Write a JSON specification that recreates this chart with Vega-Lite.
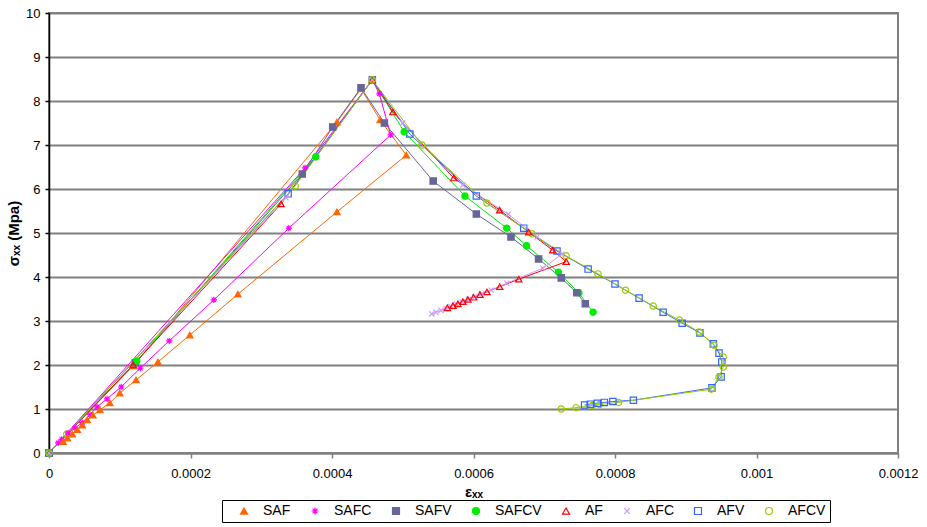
{
  "$schema": "https://vega.github.io/schema/vega-lite/v6.json",
  "width": 849,
  "height": 440,
  "autosize": {"type": "none"},
  "padding": {"left": 49, "top": 13, "right": 29, "bottom": 74},
  "background": "white",
  "config": {
    "view": {"stroke": "#808080", "strokeWidth": 2},
    "font": "Liberation Sans",
    "legend": {
      "orient": "none",
      "legendX": 173,
      "legendY": 487,
      "direction": "horizontal",
      "strokeColor": "black",
      "fillColor": "white",
      "padding": 4,
      "cornerRadius": 0,
      "symbolSize": 49,
      "symbolOffset": 11,
      "symbolStrokeWidth": 1.2,
      "labelFont": "Liberation Sans",
      "labelFontSize": 14,
      "labelColor": "black",
      "labelOffset": 12,
      "columnPadding": 6
    }
  },
  "data": {
    "values": [
      {"s": "SAF", "i": 0, "x": 0, "y": 0},
      {"s": "SAF", "i": 1, "x": 0.000119, "y": 1.98},
      {"s": "SAF", "i": 2, "x": 0.000407, "y": 7.52},
      {"s": "SAF", "i": 3, "x": 0.000441, "y": 8.28},
      {"s": "SAF", "i": 4, "x": 0.000468, "y": 7.57},
      {"s": "SAF", "i": 5, "x": 0.000505, "y": 6.77},
      {"s": "SAF", "i": 6, "x": 0.000407, "y": 5.48},
      {"s": "SAF", "i": 7, "x": 0.000267, "y": 3.61},
      {"s": "SAF", "i": 8, "x": 0.000199, "y": 2.68},
      {"s": "SAF", "i": 9, "x": 0.000154, "y": 2.07},
      {"s": "SAF", "i": 10, "x": 0.000123, "y": 1.66},
      {"s": "SAF", "i": 11, "x": 0.0001, "y": 1.36},
      {"s": "SAF", "i": 12, "x": 0.000086, "y": 1.14},
      {"s": "SAF", "i": 13, "x": 0.000072, "y": 0.98},
      {"s": "SAF", "i": 14, "x": 0.000062, "y": 0.86},
      {"s": "SAF", "i": 15, "x": 0.000054, "y": 0.75},
      {"s": "SAF", "i": 16, "x": 0.000047, "y": 0.63},
      {"s": "SAF", "i": 17, "x": 0.00004, "y": 0.53},
      {"s": "SAF", "i": 18, "x": 0.000033, "y": 0.43},
      {"s": "SAF", "i": 19, "x": 0.000026, "y": 0.34},
      {"s": "SAF", "i": 20, "x": 0.00002, "y": 0.26},

      {"s": "SAFC", "i": 0, "x": 0, "y": 0},
      {"s": "SAFC", "i": 1, "x": 0.000362, "y": 6.48},
      {"s": "SAFC", "i": 2, "x": 0.000457, "y": 8.48},
      {"s": "SAFC", "i": 3, "x": 0.000467, "y": 8.16},
      {"s": "SAFC", "i": 4, "x": 0.000483, "y": 7.23},
      {"s": "SAFC", "i": 5, "x": 0.000339, "y": 5.11},
      {"s": "SAFC", "i": 6, "x": 0.000233, "y": 3.48},
      {"s": "SAFC", "i": 7, "x": 0.00017, "y": 2.55},
      {"s": "SAFC", "i": 8, "x": 0.000129, "y": 1.93},
      {"s": "SAFC", "i": 9, "x": 0.000102, "y": 1.5},
      {"s": "SAFC", "i": 10, "x": 0.000082, "y": 1.23},
      {"s": "SAFC", "i": 11, "x": 0.000068, "y": 1.05},
      {"s": "SAFC", "i": 12, "x": 0.000058, "y": 0.87},
      {"s": "SAFC", "i": 13, "x": 0.000047, "y": 0.69},
      {"s": "SAFC", "i": 14, "x": 0.000037, "y": 0.57},
      {"s": "SAFC", "i": 15, "x": 0.000027, "y": 0.45},
      {"s": "SAFC", "i": 16, "x": 0.000018, "y": 0.31},
      {"s": "SAFC", "i": 17, "x": 0.000013, "y": 0.23},

      {"s": "SAFV", "i": 0, "x": 0, "y": 0},
      {"s": "SAFV", "i": 1, "x": 0.000122, "y": 2.05},
      {"s": "SAFV", "i": 2, "x": 0.000358, "y": 6.34},
      {"s": "SAFV", "i": 3, "x": 0.000401, "y": 7.41},
      {"s": "SAFV", "i": 4, "x": 0.000441, "y": 8.3},
      {"s": "SAFV", "i": 5, "x": 0.000474, "y": 7.5},
      {"s": "SAFV", "i": 6, "x": 0.000543, "y": 6.18},
      {"s": "SAFV", "i": 7, "x": 0.000604, "y": 5.43},
      {"s": "SAFV", "i": 8, "x": 0.000653, "y": 4.91},
      {"s": "SAFV", "i": 9, "x": 0.000692, "y": 4.41},
      {"s": "SAFV", "i": 10, "x": 0.000724, "y": 3.98},
      {"s": "SAFV", "i": 11, "x": 0.000746, "y": 3.64},
      {"s": "SAFV", "i": 12, "x": 0.000758, "y": 3.39},

      {"s": "SAFCV", "i": 0, "x": 0, "y": 0},
      {"s": "SAFCV", "i": 1, "x": 0.000124, "y": 2.09},
      {"s": "SAFCV", "i": 2, "x": 0.000377, "y": 6.73},
      {"s": "SAFCV", "i": 3, "x": 0.000457, "y": 8.48},
      {"s": "SAFCV", "i": 4, "x": 0.000502, "y": 7.3},
      {"s": "SAFCV", "i": 5, "x": 0.000588, "y": 5.84},
      {"s": "SAFCV", "i": 6, "x": 0.000647, "y": 5.11},
      {"s": "SAFCV", "i": 7, "x": 0.000675, "y": 4.71},
      {"s": "SAFCV", "i": 8, "x": 0.00072, "y": 4.11},
      {"s": "SAFCV", "i": 9, "x": 0.000749, "y": 3.64},
      {"s": "SAFCV", "i": 10, "x": 0.000769, "y": 3.2},

      {"s": "AF", "i": 0, "x": 0, "y": 0},
      {"s": "AF", "i": 1, "x": 0.000119, "y": 2.0},
      {"s": "AF", "i": 2, "x": 0.000328, "y": 5.66},
      {"s": "AF", "i": 3, "x": 0.000457, "y": 8.48},
      {"s": "AF", "i": 4, "x": 0.000486, "y": 7.75},
      {"s": "AF", "i": 5, "x": 0.000572, "y": 6.25},
      {"s": "AF", "i": 6, "x": 0.000637, "y": 5.52},
      {"s": "AF", "i": 7, "x": 0.000678, "y": 5.02},
      {"s": "AF", "i": 8, "x": 0.000712, "y": 4.61},
      {"s": "AF", "i": 9, "x": 0.000731, "y": 4.35},
      {"s": "AF", "i": 10, "x": 0.000664, "y": 3.95},
      {"s": "AF", "i": 11, "x": 0.000637, "y": 3.78},
      {"s": "AF", "i": 12, "x": 0.000619, "y": 3.66},
      {"s": "AF", "i": 13, "x": 0.000609, "y": 3.6},
      {"s": "AF", "i": 14, "x": 0.0006, "y": 3.54},
      {"s": "AF", "i": 15, "x": 0.000592, "y": 3.49},
      {"s": "AF", "i": 16, "x": 0.000585, "y": 3.44},
      {"s": "AF", "i": 17, "x": 0.000578, "y": 3.39},
      {"s": "AF", "i": 18, "x": 0.000571, "y": 3.35},
      {"s": "AF", "i": 19, "x": 0.000563, "y": 3.3},

      {"s": "AFC", "i": 0, "x": 0, "y": 0},
      {"s": "AFC", "i": 1, "x": 0.000025, "y": 0.43},
      {"s": "AFC", "i": 2, "x": 0.000335, "y": 5.8},
      {"s": "AFC", "i": 3, "x": 0.000457, "y": 8.48},
      {"s": "AFC", "i": 4, "x": 0.0005, "y": 7.5},
      {"s": "AFC", "i": 5, "x": 0.000585, "y": 6.09},
      {"s": "AFC", "i": 6, "x": 0.000649, "y": 5.43},
      {"s": "AFC", "i": 7, "x": 0.00069, "y": 4.91},
      {"s": "AFC", "i": 8, "x": 0.000725, "y": 4.52},
      {"s": "AFC", "i": 9, "x": 0.000698, "y": 4.2},
      {"s": "AFC", "i": 10, "x": 0.000647, "y": 3.86},
      {"s": "AFC", "i": 11, "x": 0.000625, "y": 3.7},
      {"s": "AFC", "i": 12, "x": 0.000612, "y": 3.62},
      {"s": "AFC", "i": 13, "x": 0.000602, "y": 3.55},
      {"s": "AFC", "i": 14, "x": 0.000593, "y": 3.49},
      {"s": "AFC", "i": 15, "x": 0.000584, "y": 3.43},
      {"s": "AFC", "i": 16, "x": 0.000576, "y": 3.38},
      {"s": "AFC", "i": 17, "x": 0.000568, "y": 3.33},
      {"s": "AFC", "i": 18, "x": 0.000561, "y": 3.28},
      {"s": "AFC", "i": 19, "x": 0.000554, "y": 3.24},
      {"s": "AFC", "i": 20, "x": 0.000547, "y": 3.2},
      {"s": "AFC", "i": 21, "x": 0.000541, "y": 3.16},

      {"s": "AFV", "i": 0, "x": 0, "y": 0},
      {"s": "AFV", "i": 1, "x": 0.000338, "y": 5.89},
      {"s": "AFV", "i": 2, "x": 0.000457, "y": 8.48},
      {"s": "AFV", "i": 3, "x": 0.00051, "y": 7.25},
      {"s": "AFV", "i": 4, "x": 0.000604, "y": 5.84},
      {"s": "AFV", "i": 5, "x": 0.000671, "y": 5.11},
      {"s": "AFV", "i": 6, "x": 0.000718, "y": 4.59},
      {"s": "AFV", "i": 7, "x": 0.000762, "y": 4.18},
      {"s": "AFV", "i": 8, "x": 0.0008, "y": 3.84},
      {"s": "AFV", "i": 9, "x": 0.000834, "y": 3.52},
      {"s": "AFV", "i": 10, "x": 0.000868, "y": 3.2},
      {"s": "AFV", "i": 11, "x": 0.000895, "y": 2.95},
      {"s": "AFV", "i": 12, "x": 0.00092, "y": 2.73},
      {"s": "AFV", "i": 13, "x": 0.000939, "y": 2.48},
      {"s": "AFV", "i": 14, "x": 0.000947, "y": 2.27},
      {"s": "AFV", "i": 15, "x": 0.000951, "y": 2.07},
      {"s": "AFV", "i": 16, "x": 0.00095, "y": 1.73},
      {"s": "AFV", "i": 17, "x": 0.000937, "y": 1.48},
      {"s": "AFV", "i": 18, "x": 0.000826, "y": 1.2},
      {"s": "AFV", "i": 19, "x": 0.000797, "y": 1.17},
      {"s": "AFV", "i": 20, "x": 0.000785, "y": 1.15},
      {"s": "AFV", "i": 21, "x": 0.000775, "y": 1.13},
      {"s": "AFV", "i": 22, "x": 0.000765, "y": 1.11},
      {"s": "AFV", "i": 23, "x": 0.000757, "y": 1.09},

      {"s": "AFCV", "i": 0, "x": 0, "y": 0},
      {"s": "AFCV", "i": 1, "x": 0.000025, "y": 0.43},
      {"s": "AFCV", "i": 2, "x": 0.000348, "y": 6.07},
      {"s": "AFCV", "i": 3, "x": 0.000457, "y": 8.48},
      {"s": "AFCV", "i": 4, "x": 0.000527, "y": 7.0},
      {"s": "AFCV", "i": 5, "x": 0.000619, "y": 5.68},
      {"s": "AFCV", "i": 6, "x": 0.000683, "y": 4.98},
      {"s": "AFCV", "i": 7, "x": 0.000731, "y": 4.48},
      {"s": "AFCV", "i": 8, "x": 0.000776, "y": 4.07},
      {"s": "AFCV", "i": 9, "x": 0.000815, "y": 3.7},
      {"s": "AFCV", "i": 10, "x": 0.000854, "y": 3.34},
      {"s": "AFCV", "i": 11, "x": 0.000891, "y": 3.02},
      {"s": "AFCV", "i": 12, "x": 0.000919, "y": 2.75},
      {"s": "AFCV", "i": 13, "x": 0.00094, "y": 2.45},
      {"s": "AFCV", "i": 14, "x": 0.000953, "y": 2.18},
      {"s": "AFCV", "i": 15, "x": 0.000953, "y": 1.95},
      {"s": "AFCV", "i": 16, "x": 0.000947, "y": 1.73},
      {"s": "AFCV", "i": 17, "x": 0.000936, "y": 1.45},
      {"s": "AFCV", "i": 18, "x": 0.000805, "y": 1.15},
      {"s": "AFCV", "i": 19, "x": 0.000778, "y": 1.1},
      {"s": "AFCV", "i": 20, "x": 0.000768, "y": 1.08},
      {"s": "AFCV", "i": 21, "x": 0.000745, "y": 1.03},
      {"s": "AFCV", "i": 22, "x": 0.000724, "y": 1.0}
    ]
  },
  "encoding": {
    "x": {
      "field": "x", "type": "quantitative",
      "scale": {"domain": [0, 0.0012], "nice": false, "zero": true},
      "axis": {
        "title": "εₓₓ",
        "titleFont": "Liberation Sans", "titleFontSize": 15, "titleFontWeight": "bold", "titleColor": "black",
        "titlePadding": 4,
        "values": [0, 0.0002, 0.0004, 0.0006, 0.0008, 0.001, 0.0012],
        "labelExpr": "format(datum.value, '~g')",
        "grid": false,
        "domainColor": "#808080", "domainWidth": 2,
        "tickColor": "#808080", "tickWidth": 1.5, "tickSize": 5,
        "labelFont": "Liberation Sans", "labelFontSize": 13, "labelColor": "black", "labelPadding": 9,
        "labelFlush": false, "labelOverlap": false, "labelBound": false
      }
    },
    "y": {
      "field": "y", "type": "quantitative",
      "scale": {"domain": [0, 10], "nice": false},
      "axis": {
        "title": "σₓₓ (Mpa)",
        "titleFont": "Liberation Sans", "titleFontSize": 15, "titleFontWeight": "bold", "titleColor": "black",
        "titlePadding": 4,
        "values": [0, 1, 2, 3, 4, 5, 6, 7, 8, 9, 10],
        "grid": true, "gridColor": "#808080", "gridWidth": 2,
        "domainColor": "black", "domainWidth": 1.5,
        "tickColor": "black", "tickWidth": 1.5, "tickSize": 4,
        "labelFont": "Liberation Sans", "labelFontSize": 13, "labelColor": "black", "labelPadding": 5,
        "labelFlush": false, "labelOverlap": false
      }
    },
    "order": {"field": "i", "type": "quantitative"}
  },
  "layer": [
    {
      "mark": {"type": "line", "strokeWidth": 1},
      "encoding": {
        "stroke": {
          "field": "s", "type": "nominal",
          "scale": {
            "domain": ["SAF", "SAFC", "SAFV", "SAFCV", "AF", "AFC", "AFV", "AFCV"],
            "range": ["#FF6600", "#FF00FF", "#666699", "#00EE00", "#FF0000", "#CC99FF", "#3366FF", "#99CC00"]
          },
          "legend": {"title": null}
        }
      }
    },
    {
      "mark": {"type": "point", "size": 40, "strokeWidth": 1.2, "opacity": 1},
      "encoding": {
        "stroke": {
          "field": "s", "type": "nominal",
          "scale": {
            "domain": ["SAF", "SAFC", "SAFV", "SAFCV", "AF", "AFC", "AFV", "AFCV"],
            "range": ["#FF6600", "#FF00FF", "#666699", "#00EE00", "#FF0000", "#CC99FF", "#3366FF", "#99CC00"]
          },
          "legend": {"title": null}
        },
        "fill": {
          "field": "s", "type": "nominal",
          "scale": {
            "domain": ["SAF", "SAFC", "SAFV", "SAFCV", "AF", "AFC", "AFV", "AFCV"],
            "range": ["#FF6600", "transparent", "#666699", "#00EE00", "transparent", "transparent", "transparent", "transparent"]
          },
          "legend": {"title": null}
        },
        "shape": {
          "field": "s", "type": "nominal",
          "scale": {
            "domain": ["SAF", "SAFC", "SAFV", "SAFCV", "AF", "AFC", "AFV", "AFCV"],
            "range": [
              "triangle-up",
              "M-1,0H1M0,-1V1M-0.7,-0.7L0.7,0.7M-0.7,0.7L0.7,-0.7",
              "square",
              "circle",
              "triangle-up",
              "M-0.8,-0.8L0.8,0.8M-0.8,0.8L0.8,-0.8",
              "square",
              "circle"
            ]
          },
          "legend": {"title": null}
        }
      }
    }
  ]
}
